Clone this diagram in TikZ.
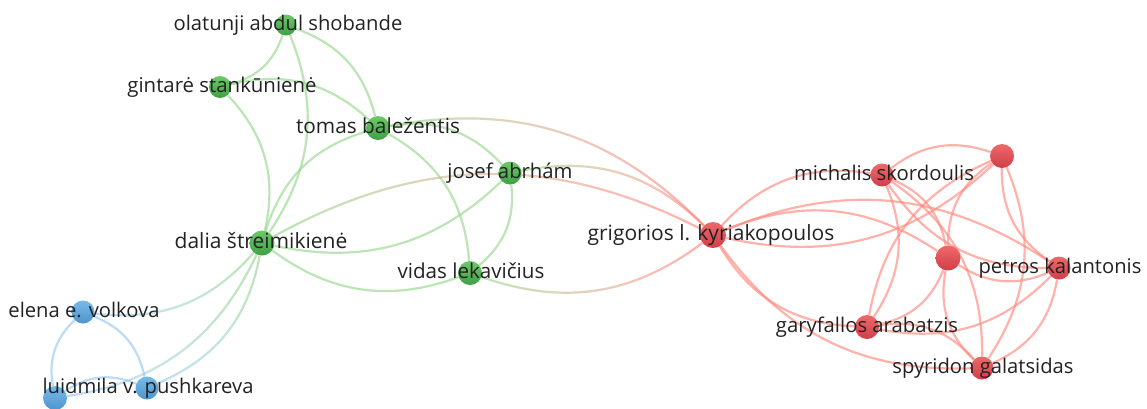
\documentclass[tikz,border=0pt]{standalone}
\usepackage{fontspec}
\setmainfont{Open Sans}
\usetikzlibrary{fadings}
\pgfdeclarelayer{bg}
\pgfsetlayers{bg,main}
\definecolor{gtop}{RGB}{110,200,105}
\definecolor{gbot}{RGB}{62,160,68}
\definecolor{rtop}{RGB}{238,105,105}
\definecolor{rbot}{RGB}{208,62,74}
\definecolor{btop}{RGB}{120,185,232}
\definecolor{bbot}{RGB}{78,148,205}
\definecolor{eG}{RGB}{150,215,140}
\definecolor{eR}{RGB}{255,135,125}
\definecolor{eB}{RGB}{150,200,242}
\definecolor{txt}{RGB}{34,34,34}
\tikzfading[name=fadeR, left color=transparent!100, right color=transparent!0]
\tikzfading[name=fadeL, left color=transparent!0, right color=transparent!100]
% green on the right, other colour on the left / green on the left, other on the right
\newcommand\mixedgeGR[3]{%
  \draw[edge, draw=eG, path fading=fadeL] (#1) to[#2] (#3);
  \draw[edge, draw=eR, path fading=fadeR] (#1) to[#2] (#3);}
\newcommand\mixedgeGB[3]{%
  \draw[edge, draw=eG, path fading=fadeR] (#1) to[#2] (#3);
  \draw[edge, draw=eB, path fading=fadeL] (#1) to[#2] (#3);}
\begin{document}
\begin{tikzpicture}[x=1pt,y=1pt,
  lbl/.style={font=\fontsize{#1}{24}\selectfont, text=txt, anchor=base, inner sep=0pt},
  lbl/.default=20.2,
  nd/.style={circle, inner sep=0pt, draw=none, minimum size=#1},
  gn/.style={nd=#1, top color=gtop, bottom color=gbot},
  rn/.style={nd=#1, top color=rtop, bottom color=rbot},
  bn/.style={nd=#1, top color=btop, bottom color=bbot},
  edge/.style={line width=2.2pt, draw opacity=0.65},
  eg/.style={edge, draw=eG},
  er/.style={edge, draw=eR},
  eb/.style={edge, draw=eB},
  bl/.style={bend left=28},
  br/.style={bend right=28},
]
\useasboundingbox (0,0) rectangle (1147,-408);
\clip (0,0) rectangle (1147,-408);
% nodes
\node[gn=21] (O)  at (286,-25) {};
\node[gn=22] (Gi) at (220,-87) {};
\node[gn=24] (Tm) at (378,-128) {};
\node[gn=23] (J)  at (510,-173) {};
\node[gn=25] (D)  at (262,-243) {};
\node[gn=24] (V)  at (470,-273) {};
\node[rn=26] (G)  at (713,-235) {};
\node[rn=23] (M)  at (882,-175) {};
\node[rn=24] (T)  at (1002,-156) {};
\node[rn=25] (C)  at (948,-258) {};
\node[rn=23] (P)  at (1059,-268) {};
\node[rn=24] (Ga) at (867,-327) {};
\node[rn=23] (S)  at (982,-368) {};
\node[bn=23] (E)  at (83,-312) {};
\node[bn=23] (Pu) at (147,-388) {};
\node[bn=24] (BL) at (55,-398) {};
% edges
\begin{pgfonlayer}{bg}
\draw[eg] (O) to[bl] (Gi);
\draw[eg] (O) to[bl] (Tm);
\draw[eg] (O) to[bl] (D);
\draw[eg] (Gi) to[bl] (Tm);
\draw[eg] (Gi) to[bl] (D);
\draw[eg] (D) to[bl] (Tm);
\draw[eg] (Tm) to[bl] (J);
\draw[eg] (Tm) to[bl] (V);
\draw[eg] (J) to[bl] (D);
\draw[eg] (D) to[br] (V);
\draw[eg] (J) to[bl] (V);
\mixedgeGR{Tm}{bl}{G}
\mixedgeGR{D}{bl}{G}
\mixedgeGR{J}{bl}{G}
\mixedgeGR{V}{br}{G}
\mixedgeGB{D}{bl}{E}
\mixedgeGB{D}{bl}{Pu}
\mixedgeGB{D}{bl}{BL}
\draw[eb] (E) to[bl] (Pu);
\draw[eb] (E) to[br] (BL);
\draw[eb] (BL) to[bl] (Pu);
\draw[er] (G) to[bl] (M);
\draw[er] (G) to[bl] (C);
\draw[er] (G) to[bl] (P);
\draw[er] (G) to[br] (T);
\draw[er] (G) to[br] (Ga);
\draw[er] (G) to[br] (S);
\draw[er] (M) to[bl] (T);
\draw[er] (M) to[bl] (C);
\draw[er] (M) to[br] (P);
\draw[er] (M) to[bl] (S);
\draw[er] (M) to[bl] (Ga);
\draw[er] (T) to[br] (P);
\draw[er] (T) to[bl] (S);
\draw[er] (T) to[br] (C);
\draw[er] (T) to[br] (Ga);
\draw[er] (C) to[br] (P);
\draw[er] (C) to[bl] (Ga);
\draw[er] (C) to[br] (S);
\draw[er] (Ga) to[bl] (S);
\draw[er] (Ga) to[br] (P);
\draw[er] (S) to[br] (P);
\end{pgfonlayer}
% labels
\node[lbl] (lO)  at (288,-30.5) {olatunji abdul shobande};
\node[lbl=20.4] (lGi) at (222,-92.5) {gintarė stankūnienė};
\node[lbl=20.8] (lTm) at (378,-133.5) {tomas baležentis};
\node[lbl=20.3] (lJ)  at (510,-178.5) {josef abrhám};
\node[lbl=21] (lD)  at (261,-248.5) {dalia štreimikienė};
\node[lbl=20.6] (lV)  at (471,-278.5) {vidas lekavičius};
\node[lbl=21] (lG)  at (711,-240.5) {grigorios l. kyriakopoulos};
\node[lbl=20.3] (lM)  at (884,-180.5) {michalis skordoulis};
\node[lbl] (lP)  at (1060,-273.5) {petros kalantonis};
\node[lbl=20.3] (lGa) at (867,-332.5) {garyfallos arabatzis};
\node[lbl] (lS)  at (983,-373.5) {spyridon galatsidas};
\node[lbl] (lE)  at (84,-317.5) {elena e. volkova};
\node[lbl] (lPu) at (148,-393.5) {luidmila v. pushkareva};
\end{tikzpicture}
\end{document}
